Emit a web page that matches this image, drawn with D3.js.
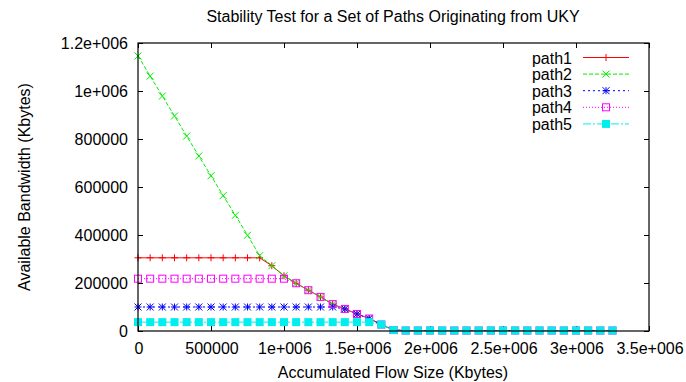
<!DOCTYPE html>
<html><head><meta charset="utf-8">
<script src="https://cdn.jsdelivr.net/npm/d3@7"></script>
<style>
html,body{margin:0;padding:0;background:#fff;}
text{font-family:"Liberation Sans",Arial,sans-serif;fill:#000;}
</style></head>
<body><svg id="chart" width="686" height="382"></svg>
<script>
// ---- data ----
const flowSize = [0, 83333, 166667, 250000, 333333, 416667, 500000, 583333, 666667, 750000,
  833333, 916667, 1000000, 1083333, 1166667, 1250000, 1333333, 1416667, 1500000, 1583333,
  1666667, 1750000, 1833333, 1916667, 2000000, 2083333, 2166667, 2250000, 2333333, 2416667,
  2500000, 2583333, 2666667, 2750000, 2833333, 2916667, 3000000, 3083333, 3166667, 3250000];
const path1 = [305000, 305000, 305000, 305000, 305000, 305000, 305000, 305000, 305000, 305000,
  305000, 272000, 230000, 199000, 170000, 142000, 112000, 92000, 71000, 52000,
  27000, 4000, 2000, 2000, 2000, 2000, 2000, 2000, 2000, 2000,
  2000, 2000, 2000, 2000, 2000, 2000, 2000, 2000, 2000, 2000];
const path2 = [1146000, 1062000, 979000, 896000, 812000, 729000, 647000, 564000, 482000, 399000,
  314000, 272000, 230000, 199000, 170000, 142000, 112000, 92000, 71000, 52000,
  27000, 4000, 2000, 2000, 2000, 2000, 2000, 2000, 2000, 2000,
  2000, 2000, 2000, 2000, 2000, 2000, 2000, 2000, 2000, 2000];
const path3 = [100000, 100000, 100000, 100000, 100000, 100000, 100000, 100000, 100000, 100000,
  100000, 100000, 100000, 100000, 100000, 100000, 100000, 92000, 71000, 52000,
  27000, 4000, 2000, 2000, 2000, 2000, 2000, 2000, 2000, 2000,
  2000, 2000, 2000, 2000, 2000, 2000, 2000, 2000, 2000, 2000];
const path4 = [218000, 218000, 218000, 218000, 218000, 218000, 218000, 218000, 218000, 218000,
  218000, 218000, 218000, 199000, 170000, 142000, 112000, 92000, 71000, 52000,
  27000, 4000, 2000, 2000, 2000, 2000, 2000, 2000, 2000, 2000,
  2000, 2000, 2000, 2000, 2000, 2000, 2000, 2000, 2000, 2000];
const path5 = [37000, 37000, 37000, 37000, 37000, 37000, 37000, 37000, 37000, 37000,
  37000, 37000, 37000, 37000, 37000, 37000, 37000, 37000, 37000, 37000,
  27000, 4000, 2000, 2000, 2000, 2000, 2000, 2000, 2000, 2000,
  2000, 2000, 2000, 2000, 2000, 2000, 2000, 2000, 2000, 2000];
const seriesNames = ["path1", "path2", "path3", "path4", "path5"];
const xTicks = [0, 500000, 1000000, 1500000, 2000000, 2500000, 3000000, 3500000];
const xTickLabels = ["0", "500000", "1e+006", "1.5e+006", "2e+006", "2.5e+006", "3e+006", "3.5e+006"];
const yTicks = [0, 200000, 400000, 600000, 800000, 1000000, 1200000];
const yTickLabels = ["0", "200000", "400000", "600000", "800000", "1e+006", "1.2e+006"];
const titleText = "Stability Test for a Set of Paths Originating from UKY";
const xLabel = "Accumulated Flow Size (Kbytes)";
const yLabel = "Available Bandwidth (Kbytes)";

// ---- styles ----
const styles = [
  {color: "#ff0000", dash: null, marker: "plus"},
  {color: "#00ee00", dash: "4,2", marker: "cross"},
  {color: "#0000ff", dash: "2,3", marker: "star"},
  {color: "#ff00ff", dash: "1,2", marker: "square"},
  {color: "#00eeee", dash: "8,2,2,2", marker: "fsquare"}
];
const allSeries = [path1, path2, path3, path4, path5];

const svg = d3.select("#chart");
const m = {left: 138, right: 649, top: 43, bottom: 331};
const x = d3.scaleLinear().domain([0, 3500000]).range([m.left, m.right]);
const y = d3.scaleLinear().domain([0, 1200000]).range([m.bottom, m.top]);

// ticks (inward, mirrored)
const tk = 5;
const axG = svg.append("g").attr("stroke", "#000").attr("stroke-width", 1);
xTicks.forEach(v => {
  const px = Math.round(x(v)) + 0.5;
  axG.append("line").attr("x1", px).attr("x2", px).attr("y1", m.bottom).attr("y2", m.bottom - tk);
  axG.append("line").attr("x1", px).attr("x2", px).attr("y1", m.top).attr("y2", m.top + tk);
});
yTicks.forEach(v => {
  const py = Math.round(y(v)) + 0.5;
  axG.append("line").attr("x1", m.left).attr("x2", m.left + tk).attr("y1", py).attr("y2", py);
  axG.append("line").attr("x1", m.right).attr("x2", m.right - tk).attr("y1", py).attr("y2", py);
});

// tick labels
const fs = 16;
svg.append("g").selectAll("text").data(xTicks).join("text")
  .attr("x", d => x(d) + 1).attr("y", 354).attr("text-anchor", "middle")
  .attr("font-size", fs).text((d, i) => xTickLabels[i]);
svg.append("g").selectAll("text").data(yTicks).join("text")
  .attr("x", 128).attr("y", d => y(d) + 6).attr("text-anchor", "end")
  .attr("font-size", fs).text((d, i) => yTickLabels[i]);

// titles
svg.append("text").attr("x", 393).attr("y", 22).attr("text-anchor", "middle").attr("font-size", fs).text(titleText);
svg.append("text").attr("x", 393).attr("y", 378).attr("text-anchor", "middle").attr("font-size", fs).text(xLabel);
svg.append("text").attr("transform", "translate(30,187) rotate(-90)").attr("text-anchor", "middle").attr("font-size", fs).text(yLabel);

// markers
function drawMarker(g, type, cx, cy, color) {
  const s = 3.5;
  if (type === "plus") {
    g.append("path").attr("d", `M${cx - s},${cy}H${cx + s}M${cx},${cy - s}V${cy + s}`).attr("stroke", color).attr("fill", "none");
  } else if (type === "cross") {
    g.append("path").attr("d", `M${cx - s},${cy - s}L${cx + s},${cy + s}M${cx - s},${cy + s}L${cx + s},${cy - s}`).attr("stroke", color).attr("fill", "none");
  } else if (type === "star") {
    g.append("path").attr("d", `M${cx - s},${cy}H${cx + s}M${cx},${cy - s}V${cy + s}M${cx - s},${cy - s}L${cx + s},${cy + s}M${cx - s},${cy + s}L${cx + s},${cy - s}`).attr("stroke", color).attr("fill", "none");
  } else if (type === "square") {
    g.append("rect").attr("x", cx - 3.5).attr("y", cy - 3.5).attr("width", 7).attr("height", 7).attr("stroke", color).attr("fill", "none");
  } else if (type === "fsquare") {
    g.append("rect").attr("x", cx - 4).attr("y", cy - 4).attr("width", 8).attr("height", 8).attr("fill", color);
  }
}

const line = d3.line().x(d => x(d[0])).y(d => y(d[1]));
allSeries.forEach((vals, si) => {
  const st = styles[si];
  const pts = flowSize.map((fx, i) => [fx, vals[i]]);
  const g = svg.append("g");
  g.append("path").attr("d", line(pts)).attr("fill", "none").attr("stroke", st.color)
    .attr("stroke-width", 1).attr("stroke-dasharray", st.dash);
  pts.forEach(p => drawMarker(g, st.marker, x(p[0]), y(p[1]), st.color));
});

// legend
seriesNames.forEach((name, i) => {
  const st = styles[i];
  const ly = 57.5 + i * 16.6;
  const g = svg.append("g");
  g.append("text").attr("x", 572).attr("y", ly + 6).attr("text-anchor", "end").attr("font-size", fs).text(name);
  g.append("line").attr("x1", 583).attr("x2", 629).attr("y1", ly).attr("y2", ly)
    .attr("stroke", st.color).attr("stroke-dasharray", st.dash);
  drawMarker(g, st.marker, 606, ly, st.color);
});

// border
svg.append("rect").attr("x", m.left).attr("y", m.top).attr("width", m.right - m.left).attr("height", m.bottom - m.top)
  .attr("fill", "none").attr("stroke", "#000").attr("stroke-width", 1.2);
</script></body></html>
